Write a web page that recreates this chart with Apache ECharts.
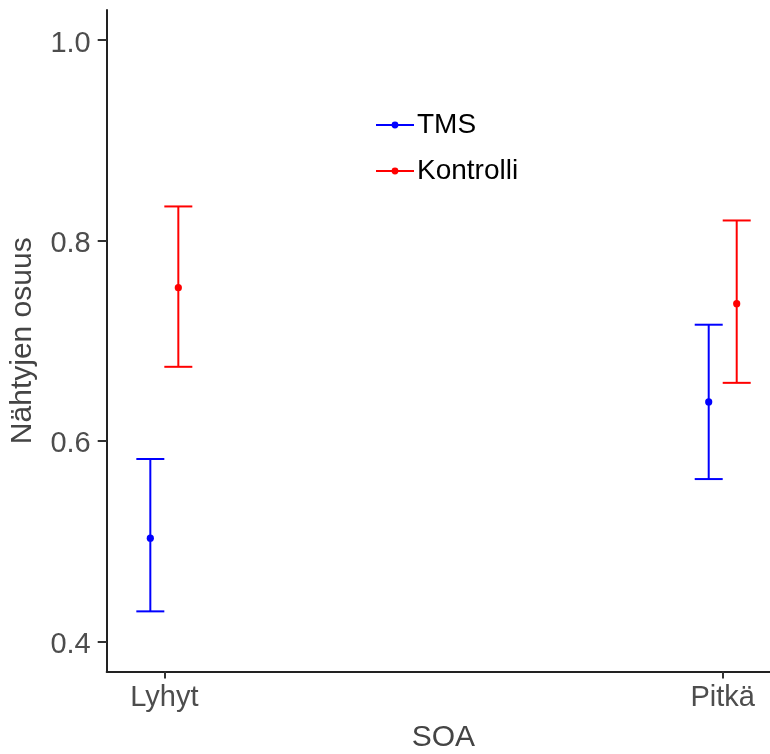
<!DOCTYPE html>
<html>
<head>
<meta charset="utf-8">
<script src="https://cdn.jsdelivr.net/npm/echarts@6/dist/echarts.min.js"></script>
<style>
  html, body { margin: 0; padding: 0; background: #fff; }
  #chart { width: 770px; height: 754px; }
</style>
</head>
<body>
<div id="chart"></div>
<script>
// SOA categories and tick labels
const categories = ['Lyhyt', 'Pitkä']
const yTicks = [0.4, 0.6, 0.8, 1.0]

// mean and error bar limits per category
const tmsMean = [0.503, 0.639]
const tmsLow = [0.430, 0.562]
const tmsHigh = [0.582, 0.716]

const kontrolliMean = [0.753, 0.737]
const kontrolliLow = [0.674, 0.658]
const kontrolliHigh = [0.834, 0.820]

const font = 'Liberation Sans, Arial, sans-serif'

function toData (mean, low, high) {
  return categories.map((c, i) => [i + 1, low[i], mean[i], high[i]])
}

function errorBar (dodge, color) {
  return function (params, api) {
    const x = api.value(0)
    const pLow = api.coord([x, api.value(1)])
    const pMid = api.coord([x, api.value(2)])
    const pHigh = api.coord([x, api.value(3)])
    const cx = pMid[0] + dodge
    const half = 14
    const st = { stroke: color, lineWidth: 2 }
    return {
      type: 'group',
      children: [
        { type: 'line', shape: { x1: cx, y1: pLow[1], x2: cx, y2: pHigh[1] }, style: st },
        { type: 'line', shape: { x1: cx - half, y1: pHigh[1], x2: cx + half, y2: pHigh[1] }, style: st },
        { type: 'line', shape: { x1: cx - half, y1: pLow[1], x2: cx + half, y2: pLow[1] }, style: st },
        { type: 'circle', shape: { cx: cx, cy: pMid[1], r: 3.6 }, style: { fill: color } }
      ]
    }
  }
}

// line with a dot in the middle, like the ggplot legend key
const legendIcon = 'path://M0,9L38,9L38,11L0,11Z M15.6,10A3.4,3.4 0 1,1 22.4,10A3.4,3.4 0 1,1 15.6,10Z'

const chart = echarts.init(document.getElementById('chart'))
chart.setOption({
  animation: false,
  backgroundColor: '#fff',
  grid: { left: 106.7, right: -10, top: 10, bottom: 82.5, outerBoundsMode: 'none', containLabel: false },
  legend: {
    orient: 'vertical',
    left: 371,
    top: 106,
    itemWidth: 38,
    itemHeight: 7,
    itemGap: 18,
    icon: legendIcon,
    textStyle: { fontFamily: font, fontSize: 28, color: '#000', padding: [0, 0, 0, -2] },
    data: ['TMS', 'Kontrolli']
  },
  xAxis: {
    type: 'value',
    min: 0.8968,
    max: 2.1026,
    name: 'SOA',
    nameLocation: 'middle',
    nameGap: 51,
    nameTextStyle: { fontFamily: font, fontSize: 30, color: '#444' },
    splitLine: { show: false },
    axisLine: { lineStyle: { color: '#222', width: 2 } },
    axisTick: { customValues: [1, 2], length: 7, lineStyle: { color: '#333', width: 2 } },
    axisLabel: {
      customValues: [1, 2],
      margin: 12,
      fontFamily: font,
      fontSize: 29,
      color: '#4d4d4d',
      formatter: v => categories[Math.round(v) - 1]
    }
  },
  yAxis: {
    type: 'value',
    min: 0.37,
    max: 1.03,
    name: 'Nähtyjen osuus',
    nameLocation: 'middle',
    nameGap: 69,
    nameTextStyle: { fontFamily: font, fontSize: 30, color: '#444' },
    splitLine: { show: false },
    axisLine: { show: true, lineStyle: { color: '#222', width: 2 } },
    axisTick: { show: true, customValues: yTicks, length: 9, lineStyle: { color: '#333', width: 2 } },
    axisLabel: {
      customValues: yTicks,
      margin: 16,
      verticalAlign: 'top',
      lineHeight: 29,
      padding: [-11, 0, 0, 0],
      fontFamily: font,
      fontSize: 29,
      color: '#4d4d4d',
      formatter: v => v.toFixed(1)
    }
  },
  series: [
    {
      name: 'TMS',
      type: 'custom',
      color: '#0000ff',
      renderItem: errorBar(-14, '#0000ff'),
      encode: { x: 0, y: [1, 2, 3] },
      data: toData(tmsMean, tmsLow, tmsHigh)
    },
    {
      name: 'Kontrolli',
      type: 'custom',
      color: '#ff0000',
      renderItem: errorBar(14, '#ff0000'),
      encode: { x: 0, y: [1, 2, 3] },
      data: toData(kontrolliMean, kontrolliLow, kontrolliHigh)
    }
  ]
})
window.onresize = chart.resize
</script>
</body>
</html>
